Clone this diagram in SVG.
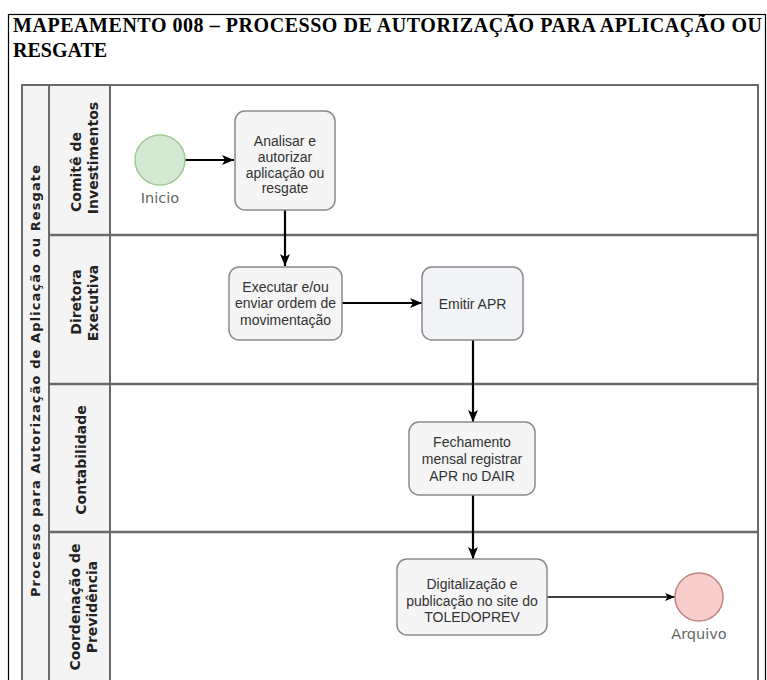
<svg xmlns="http://www.w3.org/2000/svg" width="767" height="680" viewBox="0 0 767 680">
<defs>
<style>
.title{font-family:"Liberation Serif","Times New Roman",serif;font-weight:bold;font-size:20px;fill:#000}
.pool{fill:#fff;stroke:#6a6a6a;stroke-width:2}
.hdr{fill:#f4f4f4;stroke:#6a6a6a;stroke-width:2}
.lane{stroke:#6a6a6a;stroke-width:2.5;fill:none}
.lh{font-family:"DejaVu Sans",Verdana,sans-serif;font-weight:bold;font-size:14px;fill:#222;text-anchor:middle}
.ph{font-family:"DejaVu Sans",Verdana,sans-serif;font-weight:bold;font-size:13px;fill:#222;text-anchor:middle}
.task{fill:#f5f5f5;stroke:#8a8a8a;stroke-width:1.5}
.tt{font-family:"Liberation Sans",Arial,sans-serif;font-size:14px;fill:#333;text-anchor:middle}
.ev{font-family:"DejaVu Sans",Verdana,sans-serif;font-size:14.5px;fill:#666;text-anchor:middle}
.edge{stroke:#000;stroke-width:2.2;fill:none}
.edge2{stroke:#000;stroke-width:1.4;fill:none}
</style>
<marker id="ah" viewBox="0 0 12 10" refX="12" refY="5" markerWidth="12" markerHeight="10" markerUnits="userSpaceOnUse" orient="auto">
<path d="M0,0 L12,5 L0,10 L3,5 z" fill="#000"/>
</marker>
<marker id="ah2" viewBox="0 0 10 8" refX="10" refY="4" markerWidth="10" markerHeight="8" markerUnits="userSpaceOnUse" orient="auto">
<path d="M0,0 L10,4 L0,8 L2.5,4 z" fill="#000"/>
</marker>
</defs>
<rect width="767" height="680" fill="#fff"/>
<rect x="8.5" y="14.5" width="757" height="700" fill="none" stroke="#000" stroke-width="1.2"/>
<text class="title" x="13" y="32" textLength="749" lengthAdjust="spacing">MAPEAMENTO 008 – PROCESSO DE AUTORIZAÇÃO PARA APLICAÇÃO OU</text>
<text class="title" x="13" y="57">RESGATE</text>

<g id="pool">
<rect class="pool" x="22" y="85" width="736" height="610"/>
<rect class="hdr" x="22" y="85" width="27" height="610"/>
<text class="ph" transform="translate(40,381) rotate(-90)" textLength="432" lengthAdjust="spacing">Processo para Autorização de Aplicação ou Resgate</text>
</g>

<g id="lane-comite">
<rect class="hdr" x="49" y="85" width="61" height="150"/>
<text class="lh" transform="translate(81,172) rotate(-90)">Comitê de</text>
<text class="lh" transform="translate(98,158) rotate(-90)">Investimentos</text>
</g>
<g id="lane-diretora">
<rect class="hdr" x="49" y="235" width="61" height="149"/>
<text class="lh" transform="translate(81,302) rotate(-90)">Diretora</text>
<text class="lh" transform="translate(98,303) rotate(-90)">Executiva</text>
</g>
<g id="lane-contabilidade">
<rect class="hdr" x="49" y="384" width="61" height="148"/>
<text class="lh" transform="translate(86,460) rotate(-90)">Contabilidade</text>
</g>
<g id="lane-coordenacao">
<rect class="hdr" x="49" y="532" width="61" height="163"/>
<text class="lh" transform="translate(80,607) rotate(-90)">Coordenação de</text>
<text class="lh" transform="translate(97,607) rotate(-90)">Previdência</text>
</g>
<g id="lane-lines">
<line class="lane" x1="49" y1="235" x2="758" y2="235"/>
<line class="lane" x1="49" y1="384" x2="758" y2="384"/>
<line class="lane" x1="49" y1="532" x2="758" y2="532"/>
</g>

<g id="connectors">
<line class="edge" x1="185" y1="160" x2="234" y2="160" marker-end="url(#ah)"/>
<line class="edge" x1="285" y1="210" x2="285" y2="266" marker-end="url(#ah)"/>
<line class="edge" x1="342" y1="303" x2="422" y2="303" marker-end="url(#ah)"/>
<line class="edge" x1="473" y1="340" x2="473" y2="422" marker-end="url(#ah)"/>
<line class="edge" x1="473" y1="495" x2="473" y2="559" marker-end="url(#ah)"/>
<line class="edge2" x1="547" y1="597" x2="675" y2="597" marker-end="url(#ah2)"/>
</g>

<g id="inicio">
<circle cx="160" cy="160" r="25" fill="#d5e8d4" stroke="#a3c898" stroke-width="1.5"/>
<text class="ev" x="160" y="203">Inicio</text>
</g>
<g id="analisar">
<rect class="task" x="235" y="111" width="100" height="99" rx="10"/>
<text class="tt" x="285" y="146">Analisar e</text>
<text class="tt" x="285" y="162">autorizar</text>
<text class="tt" x="285" y="177.5">aplicação ou</text>
<text class="tt" x="285" y="193">resgate</text>
</g>
<g id="executar">
<rect class="task" x="229" y="267" width="113" height="73" rx="10"/>
<text class="tt" x="285.5" y="292">Executar e/ou</text>
<text class="tt" x="285.5" y="308">enviar ordem de</text>
<text class="tt" x="285.5" y="325">movimentação</text>
</g>
<g id="emitir">
<rect class="task" x="422" y="267" width="101" height="73" rx="10" style="fill:#f2f4f7"/>
<text class="tt" x="472.5" y="309">Emitir APR</text>
</g>
<g id="fechamento">
<rect class="task" x="409" y="422" width="126" height="73" rx="10"/>
<text class="tt" x="472" y="447">Fechamento</text>
<text class="tt" x="472" y="464">mensal registrar</text>
<text class="tt" x="472" y="481">APR no DAIR</text>
</g>
<g id="digitalizacao">
<rect class="task" x="397" y="559" width="150" height="76" rx="10"/>
<text class="tt" x="472" y="589">Digitalização e</text>
<text class="tt" x="472" y="605.5">publicação no site do</text>
<text class="tt" x="472" y="622">TOLEDOPREV</text>
</g>
<g id="arquivo">
<circle cx="699" cy="597" r="24" fill="#f8cecc" stroke="#c08580" stroke-width="1.5"/>
<text class="ev" x="699" y="639">Arquivo</text>
</g>
</svg>
